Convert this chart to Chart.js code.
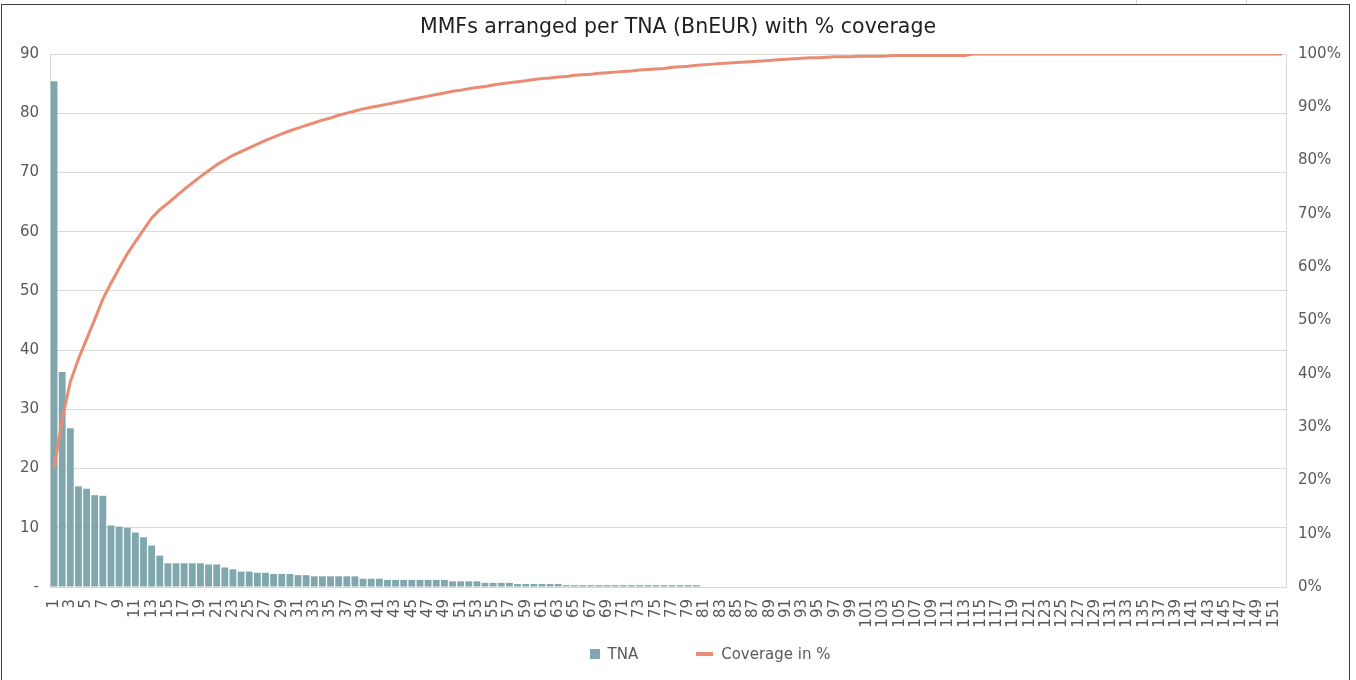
<!DOCTYPE html>
<html>
<head>
<meta charset="utf-8">
<script src="https://cdn.jsdelivr.net/npm/chart.js@4/dist/chart.umd.min.js"></script>
<style>
  html, body { margin: 0; padding: 0; background: #fff; }
  #wrap { position: relative; width: 1356px; height: 680px; overflow: hidden; }
  #frame { position: absolute; left: 1px; top: 4px; width: 1347px; height: 690px; border: 1px solid #404040; background: #fff; }
  .cellLine { position: absolute; top: 0; width: 1px; height: 4px; background: #d4d4d4; }
  #chart { position: absolute; left: 0; top: 0; }
  #legend { position: absolute; top: 645px; left: 64px; width: 1292px; display: flex; justify-content: center; align-items: center;
            font-family: "DejaVu Sans", sans-serif; font-size: 15px; color: #595959; }
  .item { display: flex; align-items: center; margin: 0 29px; }
  .swatch { margin-right: 8px; }
</style>
</head>
<body>
<div id="wrap">
  <div class="cellLine" style="left:565px"></div>
  <div class="cellLine" style="left:1136px"></div>
  <div class="cellLine" style="left:1246px"></div>
  <div id="frame"></div>
  <canvas id="chart" width="1356" height="680"></canvas>
  <div id="legend"></div>
</div>
<script>
// Fund rank (1 = largest money market fund)
const fundRank = [
  1,2,3,4,5,6,7,8,9,10,11,12,13,14,15,16,17,18,19,20,
  21,22,23,24,25,26,27,28,29,30,31,32,33,34,35,36,37,38,39,40,
  41,42,43,44,45,46,47,48,49,50,51,52,53,54,55,56,57,58,59,60,
  61,62,63,64,65,66,67,68,69,70,71,72,73,74,75,76,77,78,79,80,
  81,82,83,84,85,86,87,88,89,90,91,92,93,94,95,96,97,98,99,100,
  101,102,103,104,105,106,107,108,109,110,111,112,113,114,115,116,117,118,119,120,
  121,122,123,124,125,126,127,128,129,130,131,132,133,134,135,136,137,138,139,140,
  141,142,143,144,145,146,147,148,149,150,151,152
];

// Total net assets per fund, BnEUR
const tnaBnEur = [
  85.4, 36.3, 26.8, 17.0, 16.6, 15.5, 15.4, 10.4, 10.2, 10.0,
  9.2, 8.4, 7.0, 5.3, 4.0, 4.0, 4.0, 4.0, 4.0, 3.8,
  3.8, 3.3, 3.0, 2.6, 2.6, 2.4, 2.4, 2.2, 2.2, 2.2,
  2.0, 2.0, 1.8, 1.8, 1.8, 1.8, 1.8, 1.8, 1.4, 1.4,
  1.4, 1.2, 1.2, 1.2, 1.2, 1.2, 1.2, 1.2, 1.2, 0.95,
  0.95, 0.95, 0.95, 0.7, 0.7, 0.7, 0.7, 0.5, 0.5, 0.5,
  0.5, 0.5, 0.5, 0.3, 0.3, 0.3, 0.3, 0.3, 0.3, 0.3,
  0.3, 0.3, 0.3, 0.3, 0.3, 0.3, 0.3, 0.3, 0.3, 0.3,
  0, 0, 0, 0, 0, 0, 0, 0, 0, 0,
  0, 0, 0, 0, 0, 0, 0, 0, 0, 0,
  0, 0, 0, 0, 0, 0, 0, 0, 0, 0,
  0, 0, 0, 0, 0, 0, 0, 0, 0, 0,
  0, 0, 0, 0, 0, 0, 0, 0, 0, 0,
  0, 0, 0, 0, 0, 0, 0, 0, 0, 0,
  0, 0, 0, 0, 0, 0, 0, 0, 0, 0,
  0, 0
];

// Cumulative share of total assets, in %
const coveragePct = [
  22.3, 31.5, 38.5, 42.8, 46.5, 50.2, 54.0, 57.0, 59.8, 62.5,
  64.8, 67.0, 69.2, 70.8, 72.0, 73.3, 74.6, 75.8, 77.0, 78.1,
  79.2, 80.1, 81.0, 81.7, 82.4, 83.1, 83.8, 84.4, 85.0, 85.6,
  86.1, 86.6, 87.1, 87.6, 88.0, 88.5, 88.9, 89.3, 89.7, 90.0,
  90.3, 90.6, 90.9, 91.2, 91.5, 91.8, 92.1, 92.4, 92.7, 93.0,
  93.2, 93.5, 93.7, 93.9, 94.2, 94.4, 94.6, 94.8, 95.0, 95.2,
  95.4, 95.5, 95.7, 95.8, 96.0, 96.1, 96.2, 96.4, 96.5, 96.6,
  96.7, 96.8, 97.0, 97.1, 97.2, 97.3, 97.5, 97.6, 97.7, 97.9,
  98.0, 98.1, 98.2, 98.3, 98.4, 98.5, 98.6, 98.7, 98.8, 98.9,
  99.0, 99.1, 99.2, 99.3, 99.3, 99.4, 99.5, 99.5, 99.5, 99.6,
  99.6, 99.6, 99.6, 99.7, 99.7, 99.7, 99.7, 99.7, 99.7, 99.7,
  99.7, 99.7, 99.7, 100, 100, 100, 100, 100, 100, 100,
  100, 100, 100, 100, 100, 100, 100, 100, 100, 100,
  100, 100, 100, 100, 100, 100, 100, 100, 100, 100,
  100, 100, 100, 100, 100, 100, 100, 100, 100, 100,
  100, 100
];

const BAR_COLOR = '#7fa7ad';
const LINE_COLOR = '#ea8c73';
const GRID_COLOR = '#d9d9d9';
const TEXT_COLOR = '#595959';
const FONT = '"DejaVu Sans", sans-serif';

const chart = new Chart(document.getElementById('chart'), {
  data: {
    labels: fundRank,
    datasets: [
      {
        type: 'line',
        label: 'Coverage in %',
        data: coveragePct,
        yAxisID: 'yPct',
        borderColor: LINE_COLOR,
        backgroundColor: LINE_COLOR,
        borderWidth: 3,
        pointRadius: 0,
        tension: 0,
        order: 1
      },
      {
        type: 'bar',
        label: 'TNA',
        data: tnaBnEur,
        yAxisID: 'y',
        backgroundColor: BAR_COLOR,
        categoryPercentage: 1.0,
        barPercentage: 0.84,
        order: 2
      }
    ]
  },
  options: {
    responsive: false,
    animation: false,
    layout: { padding: { left: 0, right: 0, top: 0, bottom: 0 } },
    plugins: {
      legend: { display: false },
      tooltip: { enabled: false },
      title: {
        display: true,
        text: 'MMFs arranged per TNA (BnEUR) with % coverage',
        color: '#1f1f1f',
        font: { family: FONT, size: 20.5, weight: 'normal' },
        padding: { top: 15, bottom: 14.4 }
      }
    },
    scales: {
      x: {
        grid: { display: false },
        border: { color: GRID_COLOR },
        ticks: {
          autoSkip: false,
          maxRotation: 90,
          minRotation: 90,
          padding: 4,
          color: TEXT_COLOR,
          font: { family: FONT, size: 15 },
          callback: (v, i) => (i % 2 === 0 ? String(fundRank[i]) : '')
        },
        afterFit: s => { s.height = 93; }
      },
      y: {
        position: 'left',
        min: 0,
        max: 90,
        grid: { color: GRID_COLOR, drawTicks: false },
        border: { color: GRID_COLOR },
        ticks: {
          stepSize: 10,
          padding: 11,
          color: TEXT_COLOR,
          font: { family: FONT, size: 15 },
          callback: v => (v === 0 ? '-' : v)
        },
        afterFit: s => { s.width = 50; }
      },
      yPct: {
        position: 'right',
        min: 0,
        max: 100,
        grid: { drawOnChartArea: false, drawTicks: false },
        border: { color: GRID_COLOR },
        ticks: {
          stepSize: 10,
          padding: 12,
          color: TEXT_COLOR,
          font: { family: FONT, size: 15 },
          callback: v => v + '%'
        },
        afterFit: s => { s.width = 70; }
      }
    }
  }
});

// HTML legend built from the chart's datasets
const legendEl = document.getElementById('legend');
[chart.data.datasets[1], chart.data.datasets[0]].forEach(ds => {
  const item = document.createElement('div');
  item.className = 'item';
  const sw = document.createElement('span');
  sw.className = 'swatch';
  if (ds.type === 'bar') {
    sw.style.cssText = 'display:inline-block;width:10px;height:10px;background:' + ds.backgroundColor;
  } else {
    sw.style.cssText = 'display:inline-block;width:17px;height:4px;background:' + ds.borderColor;
  }
  const txt = document.createElement('span');
  txt.textContent = ds.label;
  item.appendChild(sw);
  item.appendChild(txt);
  legendEl.appendChild(item);
});
</script>
</body>
</html>
